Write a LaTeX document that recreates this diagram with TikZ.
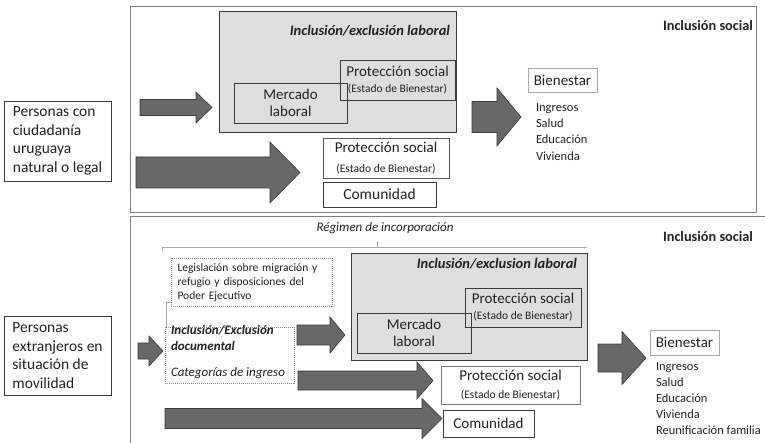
\documentclass[tikz,border=0pt]{standalone}
\usepackage{fontspec}
\setmainfont{Carlito}
\newcommand\myfs[2]{\fontsize{#1}{#2}\selectfont}
\definecolor{txtc}{HTML}{222222}
\definecolor{lgray}{HTML}{DEDEDE}
\definecolor{agray}{HTML}{686868}
\definecolor{adark}{HTML}{3A3A3A}
\definecolor{boxline}{HTML}{3A3A3A}
\definecolor{framegray}{HTML}{808080}
\definecolor{softline}{HTML}{A8A8A8}
\definecolor{dotgray}{HTML}{8A8A8A}
\newcommand\blockarr[6]{\filldraw[arrowshape] (#1,{#4-#5}) -- (#2,{#4-#5}) -- (#2,{#4-#6}) -- (#3,#4) -- (#2,{#4+#6}) -- (#2,{#4+#5}) -- (#1,{#4+#5}) -- cycle;}
\begin{document}
\begin{tikzpicture}[x=1pt,y=-1pt,
  frame/.style={draw=framegray, line width=1pt},
  blk/.style={draw=boxline, line width=0.8pt, inner sep=0pt, outer sep=0pt, anchor=north west, text=txtc},
  softblk/.style={blk, draw=softline},
  graybox/.style={blk, fill=lgray, draw=adark},
  dotbox/.style={draw=dotgray, dash pattern=on 1pt off 1pt, line width=0.6pt, inner sep=0pt, outer sep=0pt, anchor=north west, text=txtc},
  txt/.style={inner sep=0pt, outer sep=0pt, text=txtc},
  ttl/.style={txt, font=\myfs{14.5}{17}\bfseries\itshape},
  arrowshape/.style={fill=agray, draw=adark, line width=0.6pt},
  thinline/.style={draw=softline, line width=0.6pt}
]
\useasboundingbox (0,0) rectangle (765,443);
\clip (0,0) rectangle (765,443);

% ---------------- frames
\draw[frame] (130,7) rectangle (756,213);
\draw[frame] (130,217) rectangle (775,450);

% ---------------- top section
\node[blk, minimum width=107pt, minimum height=80pt, align=left, font=\myfs{15.5}{18.5}] (citz) at (4,101) {Personas con\\ciudadanía\\uruguaya\\natural o legal};

\node[graybox, minimum width=237pt, minimum height=121pt] (lab1) at (219,11) {};
\node[ttl, anchor=east] (lab1t) at (450,31) {Inclusión/exclusión laboral};
\node[blk, minimum width=115pt, minimum height=40pt, align=center, font=\myfs{15}{16}] (prot1) at (340,60) {Protección social\\\myfs{11.5}{13}(Estado de Bienestar)};
\node[blk, minimum width=113pt, minimum height=40pt, align=center, font=\myfs{15}{17}] (merc1) at (234,83) {Mercado\\laboral};

\node[blk, fill=white, draw=boxline!85, minimum width=126pt, minimum height=40pt, align=center, font=\myfs{15}{16}] (prots1) at (323,138) {Protección social\\[4pt]\myfs{11.5}{13}(Estado de Bienestar)};
\node[blk, fill=white, minimum width=113pt, minimum height=25pt, font=\myfs{15.5}{17}] (com1) at (323,182) {Comunidad};

\node[softblk, minimum width=69pt, minimum height=24pt, font=\myfs{15}{17}] (bien1) at (528,68) {Bienestar};
\node[txt, anchor=north west, align=left, font=\myfs{12.5}{16.4}] (list1) at (536,103) {Ingresos\\Salud\\Educación\\Vivienda};

\node[txt, anchor=west, font=\myfs{14.3}{17}\bfseries] (soc1) at (663,26) {Inclusión social};

\blockarr{140}{196}{212}{107.5}{8}{15.5}
\blockarr{136}{270}{300}{172.5}{15.5}{30.5}
\blockarr{472}{497}{521}{117}{15.5}{29}

% ---------------- bottom section
\node[txt, font=\myfs{13}{15}\itshape] (reg) at (385,228) {Régimen de incorporación};
\node[txt, anchor=west, font=\myfs{14.3}{17}\bfseries] (soc2) at (663,237) {Inclusión social};

\coordinate (brL) at (162,251);
\coordinate (brLt) at (162,247);
\coordinate (brR) at (587,247);
\coordinate (brM) at (377,247);
\coordinate (brMt) at (377,241);
\draw[thinline] (brL) -- (brLt) -- (brR);
\draw[thinline] (brM) -- (brMt);

\node[blk, minimum width=107pt, minimum height=79pt, align=left, font=\myfs{15.5}{18.5}] (extr) at (4,316) {Personas\\extranjeros en\\situación de\\movilidad};

\node[dotbox, minimum width=161pt, minimum height=48pt, text width=148pt, align=left, font=\myfs{11.5}{14}] (leg) at (171,258) {Legislación sobre migración y\\refugio y disposiciones del\\Poder Ejecutivo};
\node[dotbox, minimum width=129pt, minimum height=56pt] (doc) at (165,327) {};
\node[txt, anchor=west, align=left, font=\myfs{13}{16}\bfseries\itshape] (doct) at (171,338) {Inclusión/Exclusión\\documental};
\node[txt, anchor=west, font=\myfs{13}{15}\itshape] (cat) at (171,373) {Categorías de ingreso};
\coordinate (lk1) at (166,302);
\coordinate (lk2) at (171,302);
\draw[thinline] (doc.north west) ++(1,0) -- (lk1) -- (lk2);

\node[graybox, minimum width=236pt, minimum height=107pt] (lab2) at (351,253) {};
\node[ttl, anchor=east] (lab2t) at (577,264) {Inclusión/exclusion laboral};
\node[blk, minimum width=116pt, minimum height=39pt, align=center, font=\myfs{15}{16}] (prot2) at (465,288) {Protección social\\\myfs{11.5}{13}(Estado de Bienestar)};
\node[blk, minimum width=114pt, minimum height=40pt, align=center, font=\myfs{15}{16.5}] (merc2) at (357,313) {Mercado\\laboral};

\node[blk, fill=white, draw=boxline!70, minimum width=139pt, minimum height=38pt, align=center, font=\myfs{15}{16}] (prots2) at (441,366) {Protección social\\[2pt]\myfs{11.5}{13}(Estado de Bienestar)};
\node[blk, fill=white, minimum width=91pt, minimum height=27pt, font=\myfs{15}{17}] (com2) at (443,410) {Comunidad};

\node[softblk, minimum width=69pt, minimum height=25pt, font=\myfs{15}{17}] (bien2) at (650,330) {Bienestar};
\node[txt, anchor=north west, align=left, font=\myfs{12.5}{16.2}] (list2) at (656,362) {Ingresos\\Salud\\Educación\\Vivienda\\Reunificación familia};

\blockarr{138}{149}{163}{351}{8}{15}
\blockarr{297}{330}{345}{335}{10}{18}
\blockarr{298}{417}{433}{380.5}{9.5}{18.5}
\blockarr{165}{422}{442}{418.5}{10}{20}
\blockarr{598}{622}{646}{358}{14}{26.5}
\end{tikzpicture}
\end{document}
